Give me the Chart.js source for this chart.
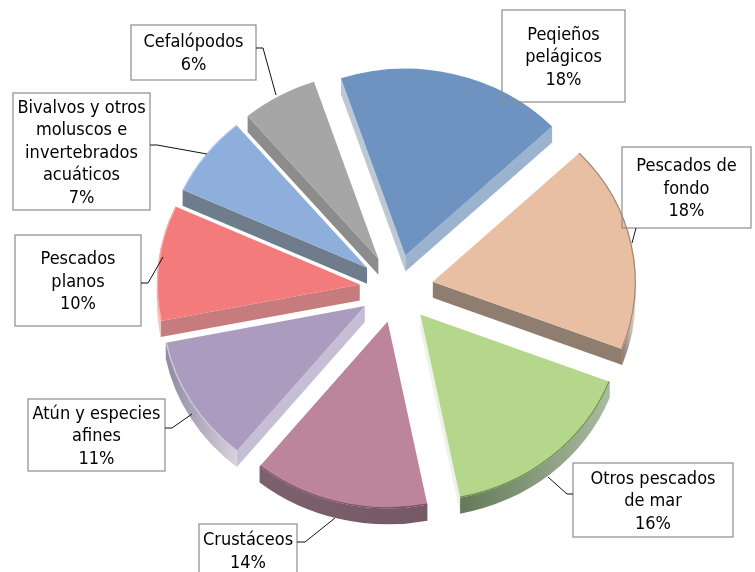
<!DOCTYPE html>
<html>
<head>
<meta charset="utf-8">
<title>Pesca</title>
<script src="https://cdn.jsdelivr.net/npm/chart.js@4"></script>
<style>
  html, body { margin: 0; padding: 0; background: #fff; overflow: hidden; }
  canvas { display: block; }
</style>
</head>
<body>
<canvas id="pie" width="755" height="572"></canvas>
<script>
"use strict";

const categories = ["Peqieños pelágicos", "Pescados de fondo", "Otros pescados de mar", "Crustáceos", "Atún y especies afines", "Pescados planos", "Bivalvos y otros moluscos e invertebrados acuáticos", "Cefalópodos"];
const values = [18, 18, 16, 14, 11, 10, 7, 6];
const labelLines = [
  ["Peqieños", "pelágicos"],
  ["Pescados de", "fondo"],
  ["Otros pescados", "de mar"],
  ["Crustáceos"],
  ["Atún y especies", "afines"],
  ["Pescados", "planos"],
  ["Bivalvos y otros", "moluscos e", "invertebrados", "acuáticos"],
  ["Cefalópodos"],
];

const topColors = ["#6e93c0", "#e8bfa2", "#b4d78c", "#bd859c", "#ab9cbf", "#f37b7b", "#8eaedb", "#a6a6a6"];
const startCut = ["#bcc8d3", null, null, null, "#c6bed4", "#c67c7c", "#6e7c8c", "#8c8c8c"];
const endCut = ["#9bb3cf", "#8f7e70", "#eef3e8", null, null, null, null, null];
const rimLeft = [null, "#8a7668", "#64795a", "#7c616c", "#8f8ba0", "#f6c4c4", null, null];
const rimRight = [null, "#e4dedb", "#a9bba0", "#755a66", "#d5d2dc", "#f6c4c4", null, null];
const edgeColors = [null, "#a08875", "#6f9150", "#7f4f63", "#d2c8de", "#f9b0b0", "#b4d0f4", null];

// box, then the leader line from the box to its slice
const boxes = [
  [502, 10, 123, 92], [622, 147, 129, 81], [573, 463, 160, 74], [199, 524, 98, 53],
  [28, 399, 137, 72], [15, 235, 126, 91], [13, 93, 137, 117], [131, 25, 125, 55],
];
const leaders = [
  [],
  [[636, 228], [632, 243]],
  [[573, 494], [567, 494], [548, 477]],
  [[297, 542], [305, 542], [335, 518]],
  [[165, 428], [172, 428], [192, 414]],
  [[141, 283], [148, 283], [163, 257]],
  [[150, 145], [157, 145], [207, 154]],
  [[256, 48], [263, 48], [276, 95]],
];

const SQUASH = 0.92;
const DEPTH = 16;
const EXPLODE = 37;
const FONT = "condensed 18px 'DejaVu Sans'";
const LINE_H = 22.5;

let pieCenter = { x: 0, y: 0 };

function quad(ctx, arc, angle, depth, color) {
  const r = arc.outerRadius;
  const px = arc.x + Math.cos(angle) * r;
  const py = arc.y + Math.sin(angle) * r;
  ctx.fillStyle = color;
  ctx.beginPath();
  ctx.moveTo(arc.x, arc.y);
  ctx.lineTo(px, py);
  ctx.lineTo(px, py + depth);
  ctx.lineTo(arc.x, arc.y + depth);
  ctx.closePath();
  ctx.fill();
}

const pie3d = {
  id: "pie3d",
  // pull every slice out of the pie; option offset also grows narrow slices
  afterDatasetUpdate(chart) {
    const arcs = chart.getDatasetMeta(0).data;
    pieCenter = { x: arcs[0].x, y: arcs[0].y };
    arcs.forEach((arc) => {
      const mid = (arc.startAngle + arc.endAngle) / 2;
      arc.x += Math.cos(mid) * EXPLODE;
      arc.y += Math.sin(mid) * EXPLODE;
    });
  },
  beforeDatasetsDraw(chart) {
    const ctx = chart.ctx;
    const arcs = chart.getDatasetMeta(0).data;
    const depth = DEPTH / SQUASH;
    ctx.save();
    ctx.translate(pieCenter.x, pieCenter.y);
    ctx.scale(1, SQUASH);
    ctx.translate(-pieCenter.x, -pieCenter.y);
    arcs.forEach((arc, i) => {
      if (startCut[i]) quad(ctx, arc, arc.startAngle, depth, startCut[i]);
      if (endCut[i]) quad(ctx, arc, arc.endAngle, depth, endCut[i]);
      if (!rimLeft[i]) return;
      const r = arc.outerRadius;
      const a0 = Math.max(arc.startAngle, 0), a1 = Math.min(arc.endAngle, Math.PI);
      const g = ctx.createLinearGradient(arc.x + Math.cos(a1) * r, 0, arc.x + Math.cos(a0) * r, 0);
      g.addColorStop(0, rimLeft[i]);
      g.addColorStop(1, rimRight[i]);
      ctx.fillStyle = g;
      ctx.beginPath();
      ctx.arc(arc.x, arc.y, r, a0, a1);
      ctx.arc(arc.x, arc.y + depth, r, a1, a0, true);
      ctx.closePath();
      ctx.fill();
    });
  },
  afterDatasetsDraw(chart) {
    const ctx = chart.ctx;
    const arcs = chart.getDatasetMeta(0).data;
    arcs.forEach((arc, i) => {
      if (!edgeColors[i]) return;
      ctx.strokeStyle = edgeColors[i];
      ctx.lineWidth = 1.2;
      ctx.beginPath();
      ctx.arc(arc.x, arc.y, arc.outerRadius - 0.6, arc.startAngle, arc.endAngle);
      ctx.stroke();
    });
    ctx.restore();

    ctx.font = FONT;
    ctx.textAlign = "center";
    ctx.textBaseline = "middle";
    values.forEach((v, i) => {
      const [x, y, w, h] = boxes[i];
      ctx.strokeStyle = "#8c8c8c";
      ctx.lineWidth = 1.2;
      ctx.strokeRect(x, y, w, h);
      if (leaders[i].length) {
        ctx.strokeStyle = "#111";
        ctx.lineWidth = 1;
        ctx.beginPath();
        leaders[i].forEach((p, k) => (k ? ctx.lineTo(p[0], p[1]) : ctx.moveTo(p[0], p[1])));
        ctx.stroke();
      }
      const lines = [...labelLines[i], `${v}%`];
      const top = y + h / 2 - (lines.length - 1) * LINE_H / 2 + 1.5;
      ctx.fillStyle = "#000";
      lines.forEach((t, k) => ctx.fillText(t, x + w / 2, top + k * LINE_H));
    });
  },
};

new Chart(document.getElementById("pie"), {
  type: "pie",
  data: {
    labels: categories,
    datasets: [{
      data: values,
      backgroundColor: topColors,
      borderWidth: 0,
      hoverOffset: 0,
      radius: 203,
      clip: false,
    }],
  },
  options: {
    responsive: false,
    animation: false,
    rotation: -18.5,
    layout: { padding: { left: 38, top: 5 } },
    plugins: { legend: { display: false }, tooltip: { enabled: false } },
  },
  plugins: [pie3d],
});
</script>
</body>
</html>
